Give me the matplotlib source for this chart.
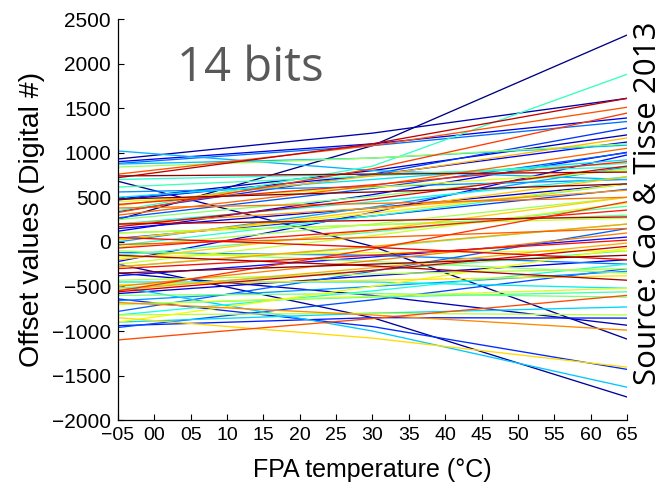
import numpy as np
import matplotlib
matplotlib.use("Agg")
import matplotlib.pyplot as plt

# FPA temperatures where each pixel offset was sampled (degC)
temps = [-5, 30, 65]

# offset per pixel at each temperature, pixels ordered by colour index
offset_m5 = [
    250, 680, -250, 930, -350, 480, -580, 150,
    900, 470, 120, -220, -380, -940, -640, 340, 40, -960, 270, -780, 880, -120, 560, -660, 0,
    1020, 873, -500, -900, 500, -450, 200, -820, 700, -40,
    350, 615, -700, -150, -520, 100, -280, -600, 250, -100,
    840, -60, -430, -820, 100, -250, -700, 450, -170, -900, 30, -480,
    -850, -200, 20, 410, -540, -280, 200, -680, -500, 380, 300, -30,
    760, -1100, 330, -550, 420, -70, -300, 50, 170, -560,
    720, 200, -150, 740, -350, 480,
]
offset_30 = [
    1080, -50, -850, 1220, -600, 800, -380, 380,
    1100, 750, 530, 330, -170, -850, -950, 760, 290, -650, 600, -330, 1080, -150, 620, -500, 390,
    800, 940, -1000, -800, 700, -450, 450, -550, 760, 290,
    850, 740, -620, 110, -320, 190, -60, -580, 510, -220,
    940, 200, -360, -800, 190, 70, -610, 610, -120, -500, 320, -430,
    -1080, 130, 350, 740, -290, -50, 380, -820, -210, 430, 630, 50,
    1080, -860, 820, -80, 640, 130, -150, -60, 480, -320,
    1100, 240, -270, 760, -250, 560,
]
offset_65 = [
    2320, -1090, -1740, 1610, -935, 1200, -200, 650,
    1390, 1120, 1005, 975, 54, -855, -1430, 1277, 590, -300, 1000, 150, 1350, -250, 700, -330, 840,
    700, 1085, -1630, -730, 920, -520, 730, -250, 840, 650,
    1880, 880, -560, 400, -100, 300, 200, -620, 820, -350,
    1100, 500, -300, -820, 267, 435, -520, 800, -100, -70, 650, -380,
    -1405, 500, 730, 1165, -13, 200, 580, -990, 100, 500, 1050, 150,
    1510, -600, 1445, 450, 900, 357, 20, -200, 850, -50,
    1610, 280, -430, 783, -150, 650,
]

xtick_vals = list(range(-5, 66, 5))
xtick_text = ["\u221205", "00", "05", "10", "15", "20", "25", "30",
              "35", "40", "45", "50", "55", "60", "65"]
ytick_vals = [-2000, -1500, -1000, -500, 0, 500, 1000, 1500, 2000, 2500]

plt.rcParams["font.family"] = ["Liberation Sans", "DejaVu Sans"]

fig = plt.figure(figsize=(6.64, 4.88), dpi=100)
ax = fig.add_axes([0.1777, 0.139, 0.7665, 0.822])

n = len(offset_m5)
colors = plt.cm.jet(np.linspace(0, 1, n))
for i in range(n):
    ax.plot(temps, [offset_m5[i], offset_30[i], offset_65[i]],
            color=colors[i], lw=0.95, solid_joinstyle="round")

ax.set_xlim(-5, 65)
ax.set_ylim(-2000, 2500)
ax.set_xticks(xtick_vals)
ax.set_xticklabels(xtick_text)
ax.set_yticks(ytick_vals)
ax.tick_params(direction="in", length=4, width=0.8, pad=5)
ax.tick_params(axis="x", labelsize=14)
ax.tick_params(axis="y", labelsize=15)
for s in ["top", "right"]:
    ax.spines[s].set_visible(False)
for s in ["left", "bottom"]:
    ax.spines[s].set_linewidth(0.9)

ax.set_xlabel("FPA temperature (\u00b0C)", fontsize=18, labelpad=10)
ax.set_ylabel("Offset values (Digital #)", fontsize=20.5, labelpad=5)

ax.text(0.26, 0.878, "14 bits", transform=ax.transAxes, ha="center",
        va="center", fontsize=34, color="#595959", family="Open Sans")
fig.text(0.976, 0.584, "Source: Cao & Tisse 2013", rotation=90,
         ha="center", va="center", fontsize=22.5, color="black",
         family="Open Sans")

fig.savefig("out.png", dpi=100)
